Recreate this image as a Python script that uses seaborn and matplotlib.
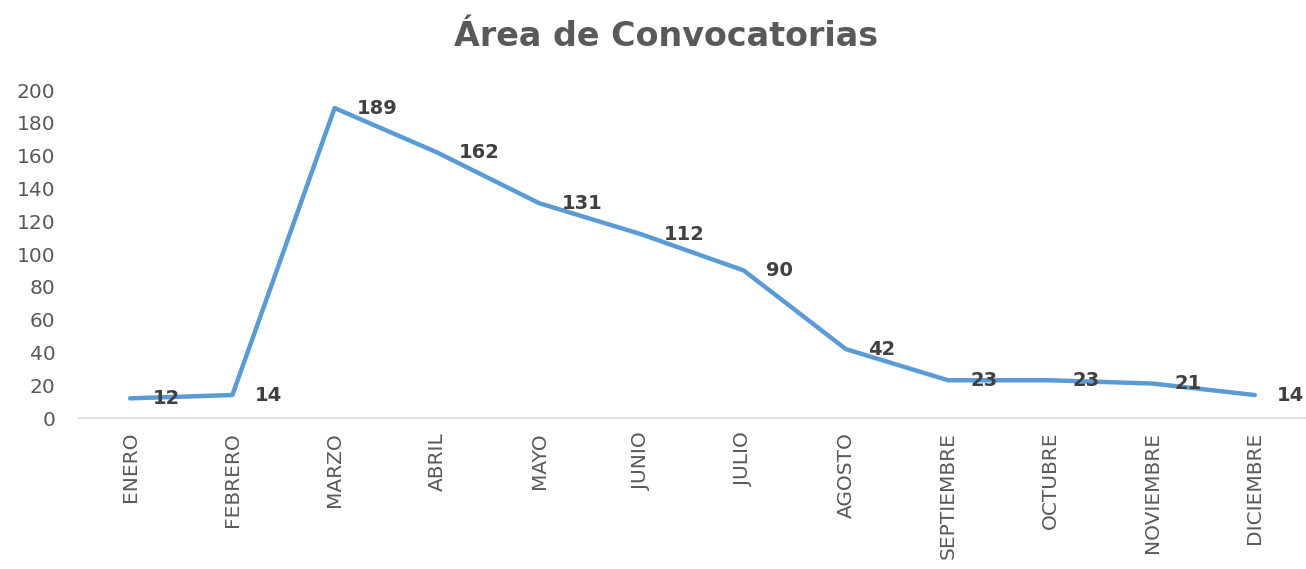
import pandas as pd
import seaborn as sns
import matplotlib.pyplot as plt

months = ["ENERO", "FEBRERO", "MARZO", "ABRIL", "MAYO", "JUNIO", "JULIO",
          "AGOSTO", "SEPTIEMBRE", "OCTUBRE", "NOVIEMBRE", "DICIEMBRE"]
convocatorias = [12, 14, 189, 162, 131, 112, 90, 42, 23, 23, 21, 14]
title = "Área de Convocatorias"


def main():
    sns.set_style("white")
    plt.rcParams['font.family'] = ['DejaVu Sans']
    df = pd.DataFrame({"mes": months, "valor": convocatorias})

    fig = plt.figure(figsize=(13.06, 5.69), dpi=100)
    ax = fig.add_axes([79 / 1306, 1 - 418 / 569, 1 - 79 / 1306, (418 - 90) / 569])
    sns.lineplot(data=df, x="mes", y="valor", ax=ax, color="#5B9BD5",
                 linewidth=3.2, sort=False)

    for i, v in enumerate(df["valor"]):
        ax.annotate(str(v), (i, v), xytext=(16, 0), textcoords="offset points",
                    ha="left", va="center", fontsize=14, fontweight="bold",
                    color="#404040")

    ax.set_xlim(-0.5, len(months) - 0.5)
    ax.set_ylim(0, 200)
    ax.set_yticks(range(0, 201, 20))
    ax.set_xlabel("")
    ax.set_ylabel("")
    for side in ["top", "right", "left"]:
        ax.spines[side].set_visible(False)
    ax.spines["bottom"].set_color("#D9D9D9")
    ax.spines["bottom"].set_linewidth(1.2)
    ax.tick_params(axis="x", length=0, pad=10, labelsize=14.5, labelcolor="#595959",
                   labelrotation=90)
    ax.tick_params(axis="y", length=0, pad=17, labelsize=14.5, labelcolor="#595959")
    for lbl in ax.get_xticklabels():
        lbl.set_va("top")

    fig.text(666 / 1306, 1 - 36 / 569, title, ha="center", va="center",
             fontsize=24, fontweight="bold", color="#595959")
    fig.savefig("out.png", dpi=100)
    plt.close()


if __name__ == '__main__':
    main()
